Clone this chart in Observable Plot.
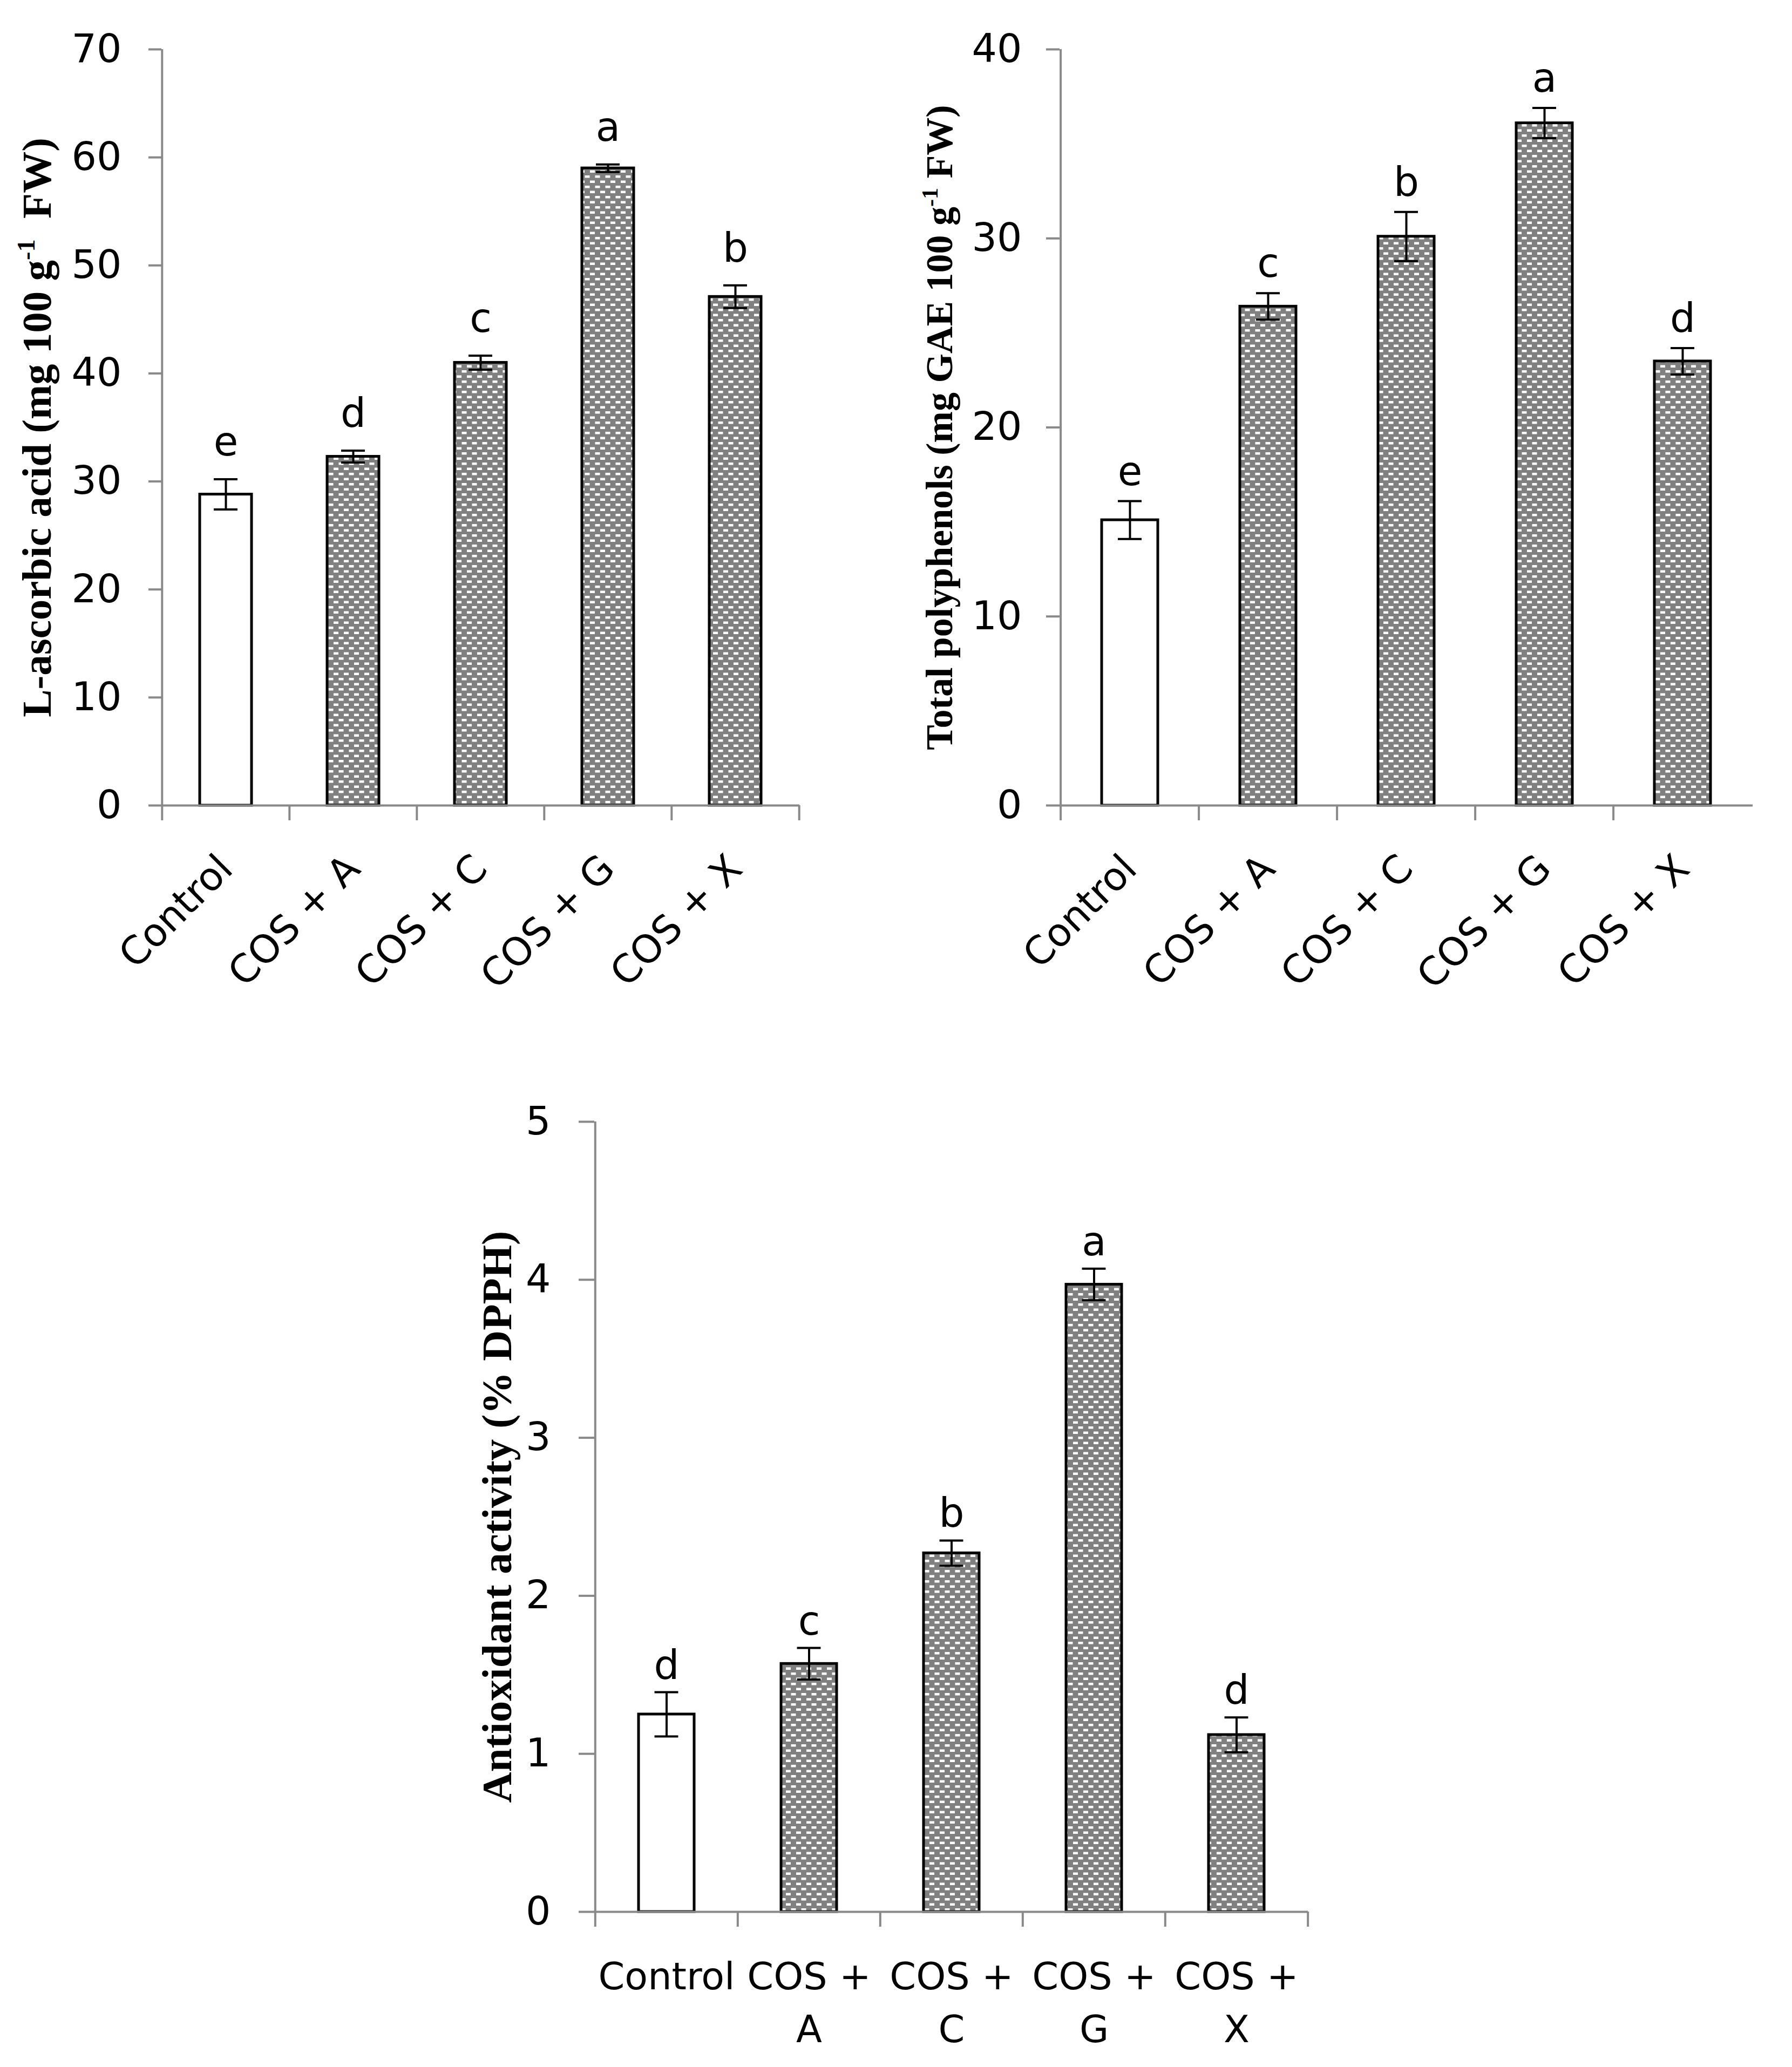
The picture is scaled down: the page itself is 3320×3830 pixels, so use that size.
<!DOCTYPE html>
<html><head><meta charset="utf-8">
<script src="https://cdn.jsdelivr.net/npm/d3@7"></script>
<script src="https://cdn.jsdelivr.net/npm/@observablehq/plot@0.6"></script>
<style>
html,body{margin:0;padding:0;background:#fff;}
#page{position:relative;width:3320px;height:3830px;background:#fff;overflow:hidden;}
.panel{position:absolute;}
</style></head><body><div id="page">
<div class="panel" id="p1" style="left:0;top:0"></div>
<div class="panel" id="p2" style="left:1660px;top:0"></div>
<div class="panel" id="p3" style="left:800px;top:1900px"></div>
</div>
<script>
// ---- data ----
const categories = ["Control", "COS + A", "COS + C", "COS + G", "COS + X"];

const ascorbicValues  = [28.8, 32.3, 41.0, 59.0, 47.1];
const ascorbicErrors  = [1.4, 0.55, 0.65, 0.35, 1.05];
const ascorbicLetters = ["e", "d", "c", "a", "b"];
const ascorbicTicks   = [0, 10, 20, 30, 40, 50, 60, 70];
const ascorbicTitle   = ["L-ascorbic acid (mg 100 g", "-1", "  FW)"];

const polyValues  = [15.1, 26.4, 30.1, 36.1, 23.5];
const polyErrors  = [1.0, 0.7, 1.3, 0.8, 0.7];
const polyLetters = ["e", "c", "b", "a", "d"];
const polyTicks   = [0, 10, 20, 30, 40];
const polyTitle   = ["Total polyphenols (mg GAE 100 g", "-1", " FW)"];

const antiValues  = [1.25, 1.57, 2.27, 3.97, 1.12];
const antiErrors  = [0.14, 0.10, 0.08, 0.10, 0.11];
const antiLetters = ["d", "c", "b", "a", "d"];
const antiTicks   = [0, 1, 2, 3, 4, 5];
const antiTitle   = ["Antioxidant activity (% DPPH)"];
const antiLabels  = ["Control", "COS +\nA", "COS +\nC", "COS +\nG", "COS +\nX"];

const GRAY = "#898989";
const SANS = "'DejaVu Sans', Verdana, sans-serif";
const SERIF = "'Liberation Serif', 'Times New Roman', serif";

function makeChart(o) {
  const data = categories.map((c, i) => ({cat: c, v: o.values[i], e: o.errors[i], letter: o.letters[i], label: o.labels[i]}));
  const plotW = o.width - o.marginLeft - o.marginRight;
  const step = plotW / categories.length;
  const bw = step * (1 - o.pad);
  const capInset = (bw - 44) / 2;
  const patId = o.id + "-brick";
  const fullTitle = o.title.join("");
  const marks = [
    Plot.barY(data.filter(d => d.cat === "Control"), {x: "cat", y: "v", fill: "white", stroke: "black", strokeWidth: 5}),
    Plot.barY(data.filter(d => d.cat !== "Control"), {x: "cat", y: "v", fill: `url(#${patId})`, stroke: "black", strokeWidth: 5}),
    Plot.ruleX(data, {x: "cat", y1: d => d.v - d.e, y2: d => d.v + d.e, stroke: "black", strokeWidth: 4}),
    Plot.tickY(data, {x: "cat", y: d => d.v + d.e, stroke: "black", strokeWidth: 4, insetLeft: capInset, insetRight: capInset}),
    Plot.tickY(data, {x: "cat", y: d => d.v - d.e, stroke: "black", strokeWidth: 4, insetLeft: capInset, insetRight: capInset}),
    Plot.text(data, {x: "cat", y: d => d.v + d.e, text: "letter", dy: o.letterDy, lineAnchor: "bottom", fill: "black", fontSize: 74}),
    Plot.ruleY([0], {stroke: GRAY, strokeWidth: 4}),
    Plot.ruleX([categories[0]], {x: d => d, y1: 0, y2: o.yMax, dx: -step / 2, stroke: GRAY, strokeWidth: 4}),
    Plot.axisX({ticks: categories, tickSize: 28, dx: -step / 2, tickFormat: () => "", stroke: GRAY, strokeWidth: 4, label: null}),
    Plot.axisY({ticks: o.yTicks, tickSize: o.tickSize, tickPadding: o.tickPadding, tickFormat: d3.format("d"), stroke: GRAY, strokeWidth: 4, fill: "black", label: null, fontSize: 73}),
    Plot.text([fullTitle], {text: d => d, frameAnchor: "left", dx: o.titleDx, rotate: -90, textAnchor: "middle", lineAnchor: "bottom",
      fontFamily: SERIF, fontWeight: "bold", fontSize: o.titleSize, fill: "black"})
  ];
  if (o.endTick) {
    marks.push(Plot.axisX({ticks: [categories[categories.length - 1]], tickSize: 28, dx: step / 2, tickFormat: () => "", stroke: GRAY, strokeWidth: 4, label: null}));
  }
  if (o.rotate) {
    marks.push(Plot.text(data, {x: "cat", text: "label", frameAnchor: "bottom", dy: o.labelDy, rotate: -45, textAnchor: "end", lineAnchor: "middle", fill: "black", fontSize: 72}));
  } else {
    marks.push(Plot.text(data, {x: "cat", text: "label", frameAnchor: "bottom", dy: o.labelDy, lineAnchor: "top", lineHeight: 1.4, fill: "black", fontSize: 70}));
  }
  const plot = Plot.plot({
    width: o.width, height: o.height,
    marginTop: o.marginTop, marginRight: o.marginRight, marginBottom: o.marginBottom, marginLeft: o.marginLeft,
    x: {domain: categories, paddingInner: o.pad, paddingOuter: o.pad / 2},
    y: {domain: [0, o.yMax]},
    style: {fontFamily: SANS, fontSize: "74px", color: "black", background: "white", overflow: "visible"},
    marks
  });
  const svg = d3.select(plot);
  const defs = svg.insert("defs", ":first-child");
  const p = defs.append("pattern").attr("id", patId).attr("patternUnits", "userSpaceOnUse").attr("width", 19).attr("height", 19);
  p.append("rect").attr("width", 19).attr("height", 19).attr("fill", "#808080");
  p.append("rect").attr("x", 0.5).attr("y", 2).attr("width", 9).attr("height", 4.5).attr("fill", "#ffffff");
  p.append("rect").attr("x", 10).attr("y", 11.5).attr("width", 9).attr("height", 4.5).attr("fill", "#ffffff");
  if (o.title.length > 1) {
    svg.selectAll("text").filter(function () { return this.textContent === fullTitle; }).each(function () {
      const t = d3.select(this);
      t.text(null);
      t.append("tspan").text(o.title[0]);
      t.append("tspan").attr("font-size", o.titleSize * 0.6).attr("dy", -o.titleSize * 0.38).text(o.title[1]);
      t.append("tspan").attr("dy", o.titleSize * 0.38).text(o.title[2]);
    });
  }
  document.getElementById(o.id).appendChild(plot);
}

makeChart({id: "p1", values: ascorbicValues, errors: ascorbicErrors, letters: ascorbicLetters, labels: categories,
  yTicks: ascorbicTicks, yMax: 70, title: ascorbicTitle, titleSize: 77, titleDx: -206,
  width: 1600, height: 1900, marginTop: 91, marginBottom: 408, marginLeft: 299, marginRight: 119,
  pad: 0.594, tickSize: 24, tickPadding: 50, letterDy: -44, rotate: true, labelDy: 105, endTick: true});

makeChart({id: "p2", values: polyValues, errors: polyErrors, letters: polyLetters, labels: categories,
  yTicks: polyTicks, yMax: 40, title: polyTitle, titleSize: 70, titleDx: -200,
  width: 1660, height: 1900, marginTop: 91, marginBottom: 408, marginLeft: 303, marginRight: 73,
  pad: 0.595, tickSize: 25, tickPadding: 45, letterDy: -30, rotate: true, labelDy: 105, endTick: false});

makeChart({id: "p3", values: antiValues, errors: antiErrors, letters: antiLetters, labels: antiLabels,
  yTicks: antiTicks, yMax: 5, title: antiTitle, titleSize: 79, titleDx: -155,
  width: 1700, height: 1930, marginTop: 178, marginBottom: 288, marginLeft: 301, marginRight: 77,
  pad: 0.61, tickSize: 29, tickPadding: 52, letterDy: -25, rotate: false, labelDy: 74, endTick: true});
</script>
</body></html>
